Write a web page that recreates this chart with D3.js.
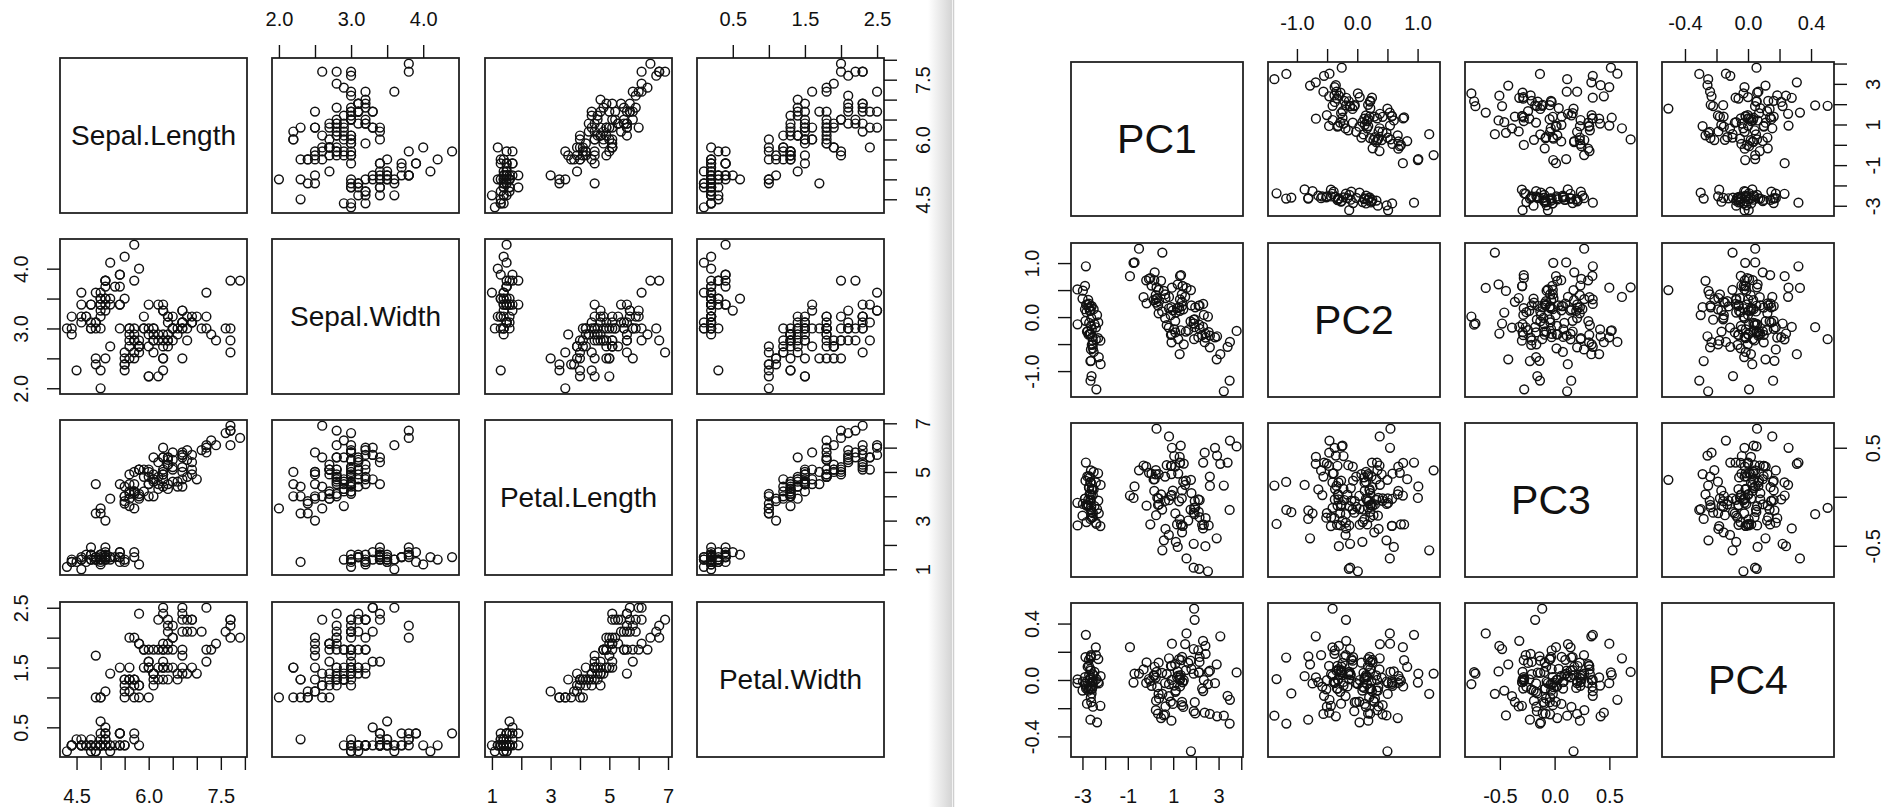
<!DOCTYPE html>
<html>
<head>
    <meta charset="utf-8">
    <title>Iris pairs and PCA pairs</title>
    <script src="https://cdn.jsdelivr.net/npm/d3@7"></script>
    <style>
        body { margin: 0; background: #fff; }
        svg { display: block; font-family: "Liberation Sans", Arial, sans-serif; }
    </style>
</head>
<body>
<script type="text/javascript">

// iris measurements (setosa, versicolor, virginica; 50 rows each)
const sepalLength = [
    5.1,4.9,4.7,4.6,5.0,5.4,4.6,5.0,4.4,4.9,5.4,4.8,4.8,4.3,5.8,5.7,5.4,5.1,5.7,5.1,5.4,5.1,4.6,5.1,4.8,
    5.0,5.0,5.2,5.2,4.7,4.8,5.4,5.2,5.5,4.9,5.0,5.5,4.9,4.4,5.1,5.0,4.5,4.4,5.0,5.1,4.8,5.1,4.6,5.3,5.0,
    7.0,6.4,6.9,5.5,6.5,5.7,6.3,4.9,6.6,5.2,5.0,5.9,6.0,6.1,5.6,6.7,5.6,5.8,6.2,5.6,5.9,6.1,6.3,6.1,6.4,
    6.6,6.8,6.7,6.0,5.7,5.5,5.5,5.8,6.0,5.4,6.0,6.7,6.3,5.6,5.5,5.5,6.1,5.8,5.0,5.6,5.7,5.7,6.2,5.1,5.7,
    6.3,5.8,7.1,6.3,6.5,7.6,4.9,7.3,6.7,7.2,6.5,6.4,6.8,5.7,5.8,6.4,6.5,7.7,7.7,6.0,6.9,5.6,7.7,6.3,6.7,
    7.2,6.2,6.1,6.4,7.2,7.4,7.9,6.4,6.3,6.1,7.7,6.3,6.4,6.0,6.9,6.7,6.9,5.8,6.8,6.7,6.7,6.3,6.5,6.2,5.9
];
const sepalWidth = [
    3.5,3.0,3.2,3.1,3.6,3.9,3.4,3.4,2.9,3.1,3.7,3.4,3.0,3.0,4.0,4.4,3.9,3.5,3.8,3.8,3.4,3.7,3.6,3.3,3.4,
    3.0,3.4,3.5,3.4,3.2,3.1,3.4,4.1,4.2,3.1,3.2,3.5,3.6,3.0,3.4,3.5,2.3,3.2,3.5,3.8,3.0,3.8,3.2,3.7,3.3,
    3.2,3.2,3.1,2.3,2.8,2.8,3.3,2.4,2.9,2.7,2.0,3.0,2.2,2.9,2.9,3.1,3.0,2.7,2.2,2.5,3.2,2.8,2.5,2.8,2.9,
    3.0,2.8,3.0,2.9,2.6,2.4,2.4,2.7,2.7,3.0,3.4,3.1,2.3,3.0,2.5,2.6,3.0,2.6,2.3,2.7,3.0,2.9,2.9,2.5,2.8,
    3.3,2.7,3.0,2.9,3.0,3.0,2.5,2.9,2.5,3.6,3.2,2.7,3.0,2.5,2.8,3.2,3.0,3.8,2.6,2.2,3.2,2.8,2.8,2.7,3.3,
    3.2,2.8,3.0,2.8,3.0,2.8,3.8,2.8,2.8,2.6,3.0,3.4,3.1,3.0,3.1,3.1,3.1,2.7,3.2,3.3,3.0,2.5,3.0,3.4,3.0
];
const petalLength = [
    1.4,1.4,1.3,1.5,1.4,1.7,1.4,1.5,1.4,1.5,1.5,1.6,1.4,1.1,1.2,1.5,1.3,1.4,1.7,1.5,1.7,1.5,1.0,1.7,1.9,
    1.6,1.6,1.5,1.4,1.6,1.6,1.5,1.5,1.4,1.5,1.2,1.3,1.4,1.3,1.5,1.3,1.3,1.3,1.6,1.9,1.4,1.6,1.4,1.5,1.4,
    4.7,4.5,4.9,4.0,4.6,4.5,4.7,3.3,4.6,3.9,3.5,4.2,4.0,4.7,3.6,4.4,4.5,4.1,4.5,3.9,4.8,4.0,4.9,4.7,4.3,
    4.4,4.8,5.0,4.5,3.5,3.8,3.7,3.9,5.1,4.5,4.5,4.7,4.4,4.1,4.0,4.4,4.6,4.0,3.3,4.2,4.2,4.2,4.3,3.0,4.1,
    6.0,5.1,5.9,5.6,5.8,6.6,4.5,6.3,5.8,6.1,5.1,5.3,5.5,5.0,5.1,5.3,5.5,6.7,6.9,5.0,5.7,4.9,6.7,4.9,5.7,
    6.0,4.8,4.9,5.6,5.8,6.1,6.4,5.6,5.1,5.6,6.1,5.6,5.5,4.8,5.4,5.6,5.1,5.1,5.9,5.7,5.2,5.0,5.2,5.4,5.1
];
const petalWidth = [
    0.2,0.2,0.2,0.2,0.2,0.4,0.3,0.2,0.2,0.1,0.2,0.2,0.1,0.1,0.2,0.4,0.4,0.3,0.3,0.3,0.2,0.4,0.2,0.5,0.2,
    0.2,0.4,0.2,0.2,0.2,0.2,0.4,0.1,0.2,0.2,0.2,0.2,0.1,0.2,0.2,0.3,0.3,0.2,0.6,0.4,0.3,0.2,0.2,0.2,0.2,
    1.4,1.5,1.5,1.3,1.5,1.3,1.6,1.0,1.3,1.4,1.0,1.5,1.0,1.4,1.3,1.4,1.5,1.0,1.5,1.1,1.8,1.3,1.5,1.2,1.3,
    1.4,1.4,1.7,1.5,1.0,1.1,1.0,1.2,1.6,1.5,1.6,1.5,1.3,1.3,1.3,1.2,1.4,1.2,1.0,1.3,1.2,1.3,1.3,1.1,1.3,
    2.5,1.9,2.1,1.8,2.2,2.1,1.7,1.8,1.8,2.5,2.0,1.9,2.1,2.0,2.4,2.3,1.8,2.2,2.3,1.5,2.3,2.0,2.0,1.8,2.1,
    1.8,1.8,1.8,2.1,1.6,1.9,2.0,2.2,1.5,1.4,2.3,2.4,1.8,1.8,2.1,2.4,2.3,1.9,2.3,2.5,2.3,1.9,2.0,2.3,1.8
];
const irisNames = ["Sepal.Length", "Sepal.Width", "Petal.Length", "Petal.Width"];

// principal component loadings (unscaled PCA of the four measurements)
const pc1Loadings = [0.36138659, -0.08452251, 0.85667061, 0.35828920];
const pc2Loadings = [-0.65658877, -0.73016143, 0.17337266, 0.07548102];
const pc3Loadings = [0.58202985, -0.59791083, -0.07623608, -0.54583143];
const pc4Loadings = [0.31548719, -0.31972310, -0.47983899, 0.75365743];
const pcNames = ["PC1", "PC2", "PC3", "PC4"];

// ticks and the labels that are printed
const irisTicks = [
    [4.5, 5, 5.5, 6, 6.5, 7, 7.5, 8],
    [2, 2.5, 3, 3.5, 4],
    [1, 2, 3, 4, 5, 6, 7],
    [0.5, 1, 1.5, 2, 2.5]
];
const irisLabelsX = [["4.5", "6.0", "7.5"], ["2.0", "3.0", "4.0"], ["1", "3", "5", "7"], ["0.5", "1.5", "2.5"]];
const irisLabelsY = [["4.5", "6.0", "7.5"], ["2.0", "3.0", "4.0"], ["1", "3", "5", "7"], ["0.5", "1.5", "2.5"]];

const pcTicks = [
    [-3, -2, -1, 0, 1, 2, 3, 4],
    [-1, -0.5, 0, 0.5, 1],
    [-0.5, 0, 0.5],
    [-0.4, -0.2, 0, 0.2, 0.4]
];
const pcLabelsX = [["-3", "-1", "1", "3"], ["-1.0", "0.0", "1.0"], ["-0.5", "0.0", "0.5"], ["-0.4", "0.0", "0.4"]];
const pcLabelsY = [["-3", "-1", "1", "3"], ["-1.0", "0.0", "1.0"], ["-0.5", "0.5"], ["-0.4", "0.0", "0.4"]];

// scores = centred data x loadings
const irisCols = [sepalLength, sepalWidth, petalLength, petalWidth];
const means = irisCols.map(c => d3.mean(c));
const pcCols = [pc1Loadings, pc2Loadings, pc3Loadings, pc4Loadings].map(load =>
    sepalLength.map((_, k) => d3.sum(irisCols, (c, v) => (c[k] - means[v]) * load[v])));

const width = 1894, height = 807;
const tickLen = 13, labelOff = 39, tickFont = 20;

const svg = d3.select("body").append("svg")
    .attr("width", width)
    .attr("height", height);

// divider between the two pictures
const defs = svg.append("defs");
const grad = defs.append("linearGradient").attr("id", "shade");
grad.append("stop").attr("offset", "0%").attr("stop-color", "#fff");
grad.append("stop").attr("offset", "100%").attr("stop-color", "#d4d4d4");
svg.append("rect").attr("x", 928).attr("y", 0).attr("width", 24).attr("height", height).attr("fill", "url(#shade)");
svg.append("line").attr("x1", 953.5).attr("x2", 953.5).attr("y1", 0).attr("y2", height)
    .attr("stroke", "#cfcfcf").attr("stroke-width", 1.5);

function padded(values) {
    const [lo, hi] = d3.extent(values);
    const p = (hi - lo) * 0.04;
    return [lo - p, hi + p];
}

function labelFormat(labels) {
    return d => {
        const s = labels.find(l => Math.abs(+l - d) < 1e-9);
        return s === undefined ? "" : s;
    };
}

let clipId = 0;

function drawPairs(cols, names, ticks, labX, labY, L) {
    const n = cols.length;
    const g = svg.append("g");
    const xs = cols.map((c, j) => d3.scaleLinear().domain(padded(c)).range([L.x[j], L.x[j] + L.w]));
    const ys = cols.map((c, i) => d3.scaleLinear().domain(padded(c)).range([L.y[i] + L.h, L.y[i]]));
    const idx = d3.range(cols[0].length);

    for (let i = 0; i < n; i++) {
        for (let j = 0; j < n; j++) {
            const cell = g.append("g");
            if (i === j) {
                cell.append("text")
                    .attr("x", L.x[j] + L.w / 2)
                    .attr("y", L.y[i] + L.h / 2)
                    .attr("dy", "0.35em")
                    .attr("text-anchor", "middle")
                    .attr("font-size", L.nameSize)
                    .attr("fill", "#111")
                    .text(names[i]);
            } else {
                const id = "clip" + (clipId++);
                defs.append("clipPath").attr("id", id)
                    .append("rect").attr("x", L.x[j]).attr("y", L.y[i]).attr("width", L.w).attr("height", L.h);
                cell.append("g")
                    .attr("clip-path", `url(#${id})`)
                    .selectAll("circle")
                    .data(idx)
                    .join("circle")
                    .attr("cx", k => xs[j](cols[j][k]))
                    .attr("cy", k => ys[i](cols[i][k]))
                    .attr("r", 4.4)
                    .attr("fill", "none")
                    .attr("stroke", "#111")
                    .attr("stroke-width", 1.45);
            }
            cell.append("rect")
                .attr("x", L.x[j]).attr("y", L.y[i])
                .attr("width", L.w).attr("height", L.h)
                .attr("fill", "none")
                .attr("stroke", "#222")
                .attr("stroke-width", 1.8);
        }
    }

    function styleAxis(ax, side) {
        ax.attr("font-size", tickFont)
            .attr("font-family", '"Liberation Sans", Arial, sans-serif');
        ax.select(".domain").remove();
        ax.selectAll(".tick line").attr("stroke", "#111").attr("stroke-width", 1.4);
        const t = ax.selectAll(".tick text").attr("fill", "#111").attr("dy", "0.35em");
        if (side === "top") t.attr("y", -labelOff);
        if (side === "bottom") t.attr("y", labelOff);
        if (side === "left" || side === "right") {
            t.attr("x", 0).attr("text-anchor", "middle")
                .attr("transform", `translate(${side === "left" ? -labelOff : labelOff},0) rotate(-90)`);
        }
    }

    for (let j = 0; j < n; j++) {
        if (j % 2 === 1) {
            g.append("g").attr("transform", `translate(0,${L.y[0]})`)
                .call(d3.axisTop(xs[j]).tickValues(ticks[j]).tickSize(tickLen).tickFormat(labelFormat(labX[j])))
                .call(ax => styleAxis(ax, "top"));
        } else {
            g.append("g").attr("transform", `translate(0,${L.y[n - 1] + L.h})`)
                .call(d3.axisBottom(xs[j]).tickValues(ticks[j]).tickSize(tickLen).tickFormat(labelFormat(labX[j])))
                .call(ax => styleAxis(ax, "bottom"));
        }
    }
    for (let i = 0; i < n; i++) {
        if (i % 2 === 1) {
            g.append("g").attr("transform", `translate(${L.x[0]},0)`)
                .call(d3.axisLeft(ys[i]).tickValues(ticks[i]).tickSize(tickLen).tickFormat(labelFormat(labY[i])))
                .call(ax => styleAxis(ax, "left"));
        } else {
            g.append("g").attr("transform", `translate(${L.x[n - 1] + L.w},0)`)
                .call(d3.axisRight(ys[i]).tickValues(ticks[i]).tickSize(tickLen).tickFormat(labelFormat(labY[i])))
                .call(ax => styleAxis(ax, "right"));
        }
    }
}

drawPairs(irisCols, irisNames, irisTicks, irisLabelsX, irisLabelsY,
    {x: [60, 272, 485, 697], y: [58, 239, 420, 602], w: 187, h: 155, nameSize: 28});

drawPairs(pcCols, pcNames, pcTicks, pcLabelsX, pcLabelsY,
    {x: [1071, 1268, 1465, 1662], y: [62, 243, 423, 603], w: 172, h: 154, nameSize: 41});

</script>
</body>
</html>
